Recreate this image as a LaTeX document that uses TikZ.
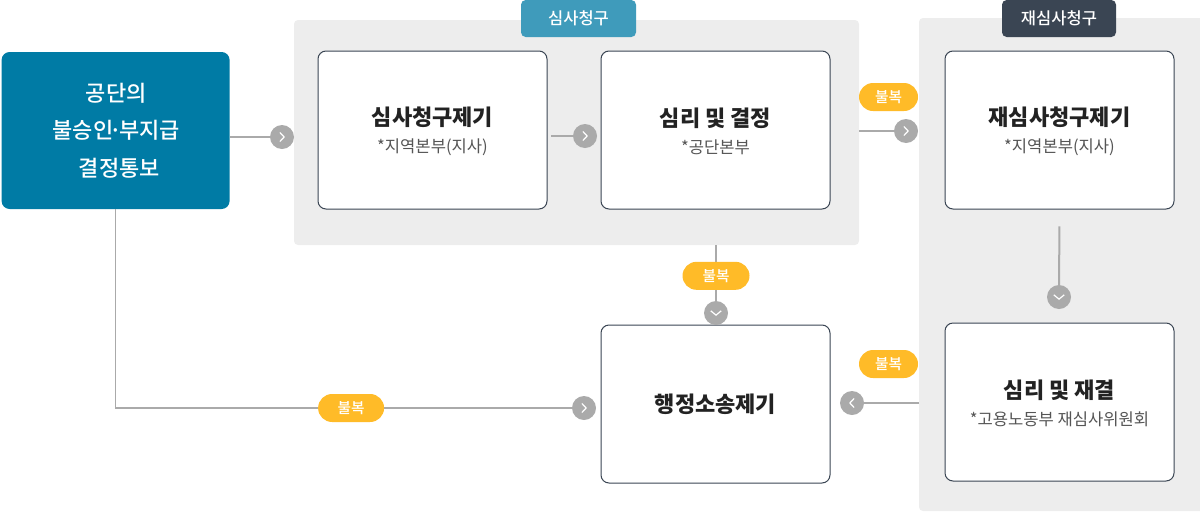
\documentclass[tikz,border=0pt]{standalone}
\usepackage{fontspec}
\setmainfont{Noto Sans CJK KR}
\newfontfamily\flowmedium{Noto Sans CJK KR Medium}
\usepackage{xcolor}
\usetikzlibrary{positioning,calc}
\definecolor{flowteal}{RGB}{0, 123, 165}
\definecolor{flowsky}{RGB}{63, 155, 187}
\definecolor{flownavy}{RGB}{58, 69, 83}
\definecolor{flowamber}{RGB}{255, 187, 40}
\definecolor{flowgrey}{RGB}{170, 170, 170}
\definecolor{flowpanel}{RGB}{237, 237, 237}
\definecolor{flowink}{RGB}{34, 34, 34}
\definecolor{flowsub}{RGB}{85, 85, 85}
\newcommand{\boxtitle}[1]{{\fontsize{16.5pt}{20pt}\bfseries #1}}
\newcommand{\boxnote}[1]{{\fontsize{12.45pt}{16pt}\selectfont\color{flowsub} #1}}
\newcommand{\boxstack}[2]{\rule{0pt}{15.5pt}\boxtitle{#1}\\[8.5pt]\boxnote{#2}}
\tikzset{
    stagebox/.style={draw=flownavy, line width=0.75pt, fill=white, rounded corners=6pt, rectangle, minimum width=171.75pt, minimum height=118.5pt, inner sep=0pt, outer sep=0pt, align=center, text=flowink},
    panelbox/.style={fill=flowpanel, rounded corners=3pt, rectangle, inner sep=0pt, outer sep=0pt},
    tagbox/.style={rounded corners=3.5pt, rectangle, minimum height=27.75pt, inner sep=0pt, outer sep=0pt, text=white, font=\flowmedium\fontsize{12.4pt}{14pt}\selectfont},
    pillbox/.style={fill=flowamber, rounded corners=10.5pt, rectangle, minimum height=21pt, inner sep=0pt, outer sep=0pt, text=white, font=\flowmedium\fontsize{11pt}{13pt}\selectfont},
    hopdot/.style={circle, fill=flowgrey, minimum size=18pt, inner sep=0pt, outer sep=0pt},
    hopnext/.style={hopdot, path picture={\draw[white, line width=0.9pt, shift={(path picture bounding box.center)}] (-1.6pt,3.4pt) -- (1.6pt,0pt) -- (-1.6pt,-3.4pt);}},
    hopback/.style={hopdot, path picture={\draw[white, line width=0.9pt, shift={(path picture bounding box.center)}] (1.6pt,3.4pt) -- (-1.6pt,0pt) -- (1.6pt,-3.4pt);}},
    hopdown/.style={hopdot, path picture={\draw[white, line width=0.9pt, shift={(path picture bounding box.center)}] (-3.9pt,1.6pt) -- (0pt,-1.6pt) -- (3.9pt,1.6pt);}},
    hopline/.style={draw=flowgrey, line width=1.5pt},
}
\begin{document}
\begin{tikzpicture}[x=0.75pt, y=-0.75pt]
    \useasboundingbox (0,0) rectangle (1200,511);
    % grey panels first
    \node [panelbox, minimum width=423.75pt, minimum height=168.75pt] (firstpanel) at (576.5,132.5) {};
    \node [panelbox, minimum width=215pt, minimum height=369.75pt, anchor=north west] (secondpanel) at (919,18) {};
    \node [tagbox, fill=flowsky, minimum width=86.25pt] (firsttag) at (578.5,18.5) {심사청구};
    \node [tagbox, fill=flownavy, minimum width=85.5pt] (secondtag) at (1059,18.5) {재심사청구};

    \node [fill=flowteal, rounded corners=6pt, rectangle, minimum width=171pt, minimum height=117.75pt, inner sep=0pt, outer sep=0pt, align=center, text=white, font=\flowmedium\fontsize{16.5pt}{28.1pt}\selectfont] (source) at (115.6,130.5) {\hspace*{1pt}공단의\\\hspace*{1pt}불승인\kern-2.5pt·\kern-2.5pt부지급\\\hspace*{5.5pt}결정통보};

    \node [stagebox, below right=23.25pt and 18pt of firstpanel.north west] (request) {\boxstack{심사청구제기}{*지역본부(지사)}};
    \node [stagebox, right=40.5pt of request] (hearing) {\boxstack{심리 및 결정}{*공단본부}};
    \node [stagebox, below right=24.75pt and 19.5pt of secondpanel.north west] (retrial) {\boxstack{재심사청구제기}{*지역본부(지사)}};
    \node [stagebox, below=85.5pt of retrial] (rehearing) {\boxstack{심리 및 재결}{*고용노동부 재심사위원회}};
    \node [stagebox, below=87pt of hearing] (lawsuit) {\boxtitle{행정소송제기}};

    \node [hopnext] (hopa) at (282,137) {};
    \node [hopnext] (hopb) at (585,136) {};
    \node [hopnext] (hopc) at (906,131) {};
    \node [hopdown] (hopd) at (716,313) {};
    \node [hopdown] (hope) at (1059,297) {};
    \node [hopback] (hopf) at (852,403) {};
    \node [hopnext] (hopg) at (584,408) {};

    \draw [hopline] (source.east |- hopa) -- (hopa);
    \draw [hopline, shorten <=3pt] (request.east |- hopb) -- (hopb);
    \draw [hopline] (firstpanel.east |- hopc) -- (hopc);
    \draw [hopline] (firstpanel.south -| hopd) -- node[pillbox, pos=0.55, minimum width=50.25pt] (appealb) {불복} (hopd);
    \draw [hopline, shorten <=13pt] (retrial.south) -- (hope);
    \draw [hopline] (secondpanel.west |- hopf) -- (hopf);
    \draw [hopline, line width=1.1pt] (source.south) |- node[pillbox, pos=0.758, minimum width=49.5pt] (appealc) {불복} (hopg);

    \node [pillbox, minimum width=44.25pt] (appeala) at (888.5,97) {불복};
    \node [pillbox, minimum width=44.25pt] (appeald) at (888.5,364) {불복};
\end{tikzpicture}
\end{document}
